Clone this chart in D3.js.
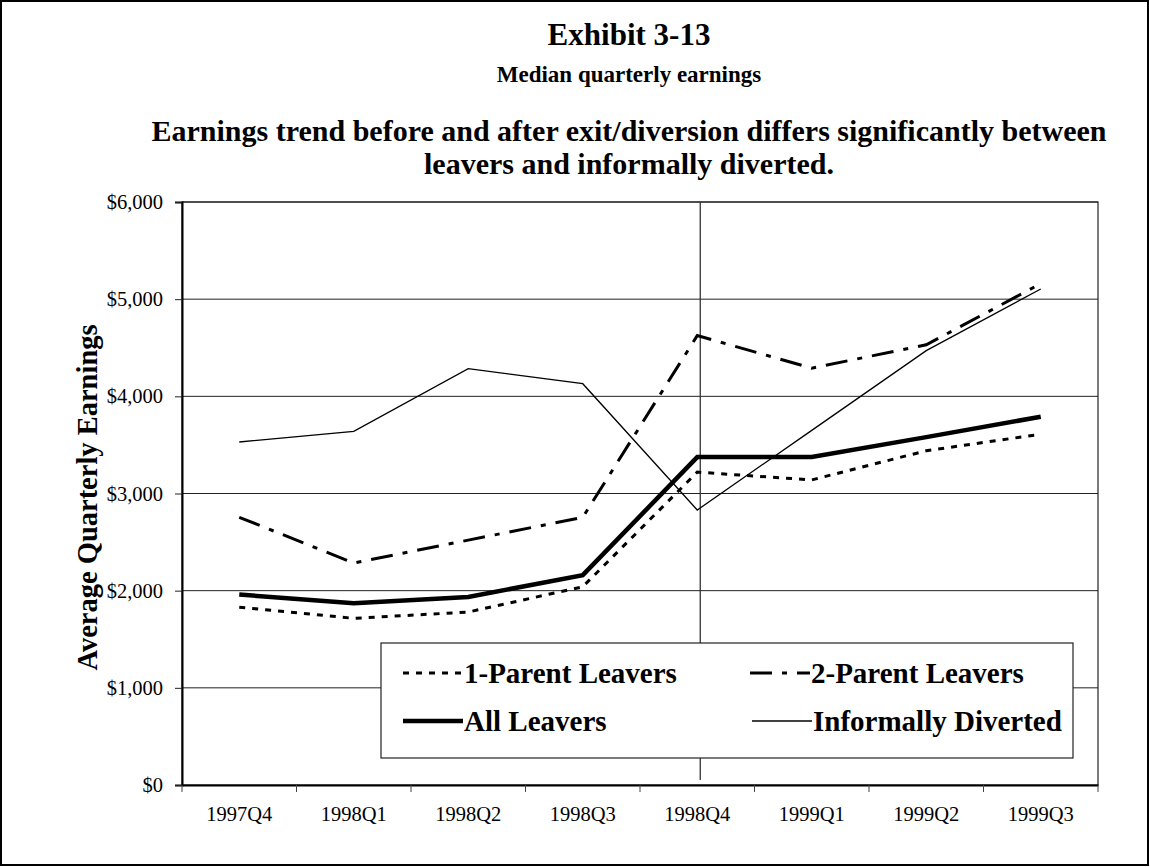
<!DOCTYPE html>
<html>
<head>
<meta charset="utf-8">
<script src="https://cdn.jsdelivr.net/npm/d3@7"></script>
<style>
  body { margin: 0; background: #fff; }
  svg { display: block; font-family: "Liberation Serif", "Times New Roman", serif; }
</style>
</head>
<body>
<svg id="chart" width="1150" height="867"></svg>
<script>
const quarters = ["1997Q4", "1998Q1", "1998Q2", "1998Q3", "1998Q4", "1999Q1", "1999Q2", "1999Q3"];

const oneParent = [1830, 1715, 1780, 2040, 3220, 3140, 3440, 3610];
const twoParent = [2755, 2285, 2520, 2755, 4625, 4290, 4530, 5160];
const allLeavers = [1960, 1870, 1935, 2160, 3375, 3375, 3580, 3790];
const informally = [3530, 3640, 4285, 4130, 2830, 3650, 4470, 5105];

const yTicks = [0, 1000, 2000, 3000, 4000, 5000, 6000];
const exitQuarter = "1998Q4";

const series = [
  { name: "1-Parent Leavers", values: oneParent, width: 3, dash: "6,7" },
  { name: "2-Parent Leavers", values: twoParent, width: 3, dash: "22,10,5,10" },
  { name: "All Leavers", values: allLeavers, width: 4.5, dash: null },
  { name: "Informally Diverted", values: informally, width: 1.3, dash: null },
];

const svg = d3.select("#chart");
const W = 1150, H = 867;
const margin = { left: 182, right: 52, top: 202, bottom: 82 };
const plotW = W - margin.left - margin.right;
const plotH = H - margin.top - margin.bottom;

// outer frame
svg.append("rect")
  .attr("x", 1).attr("y", 1).attr("width", W - 3).attr("height", H - 3)
  .attr("fill", "#fff").attr("stroke", "#000").attr("stroke-width", 2);

// titles
const titles = [
  { text: "Exhibit 3-13", y: 45, size: 31 },
  { text: "Median quarterly earnings", y: 82, size: 23 },
  { text: "Earnings trend before and after exit/diversion differs significantly between", y: 141, size: 30 },
  { text: "leavers and informally diverted.", y: 174, size: 30 },
];
svg.append("g").selectAll("text").data(titles).join("text")
  .attr("x", 629).attr("y", d => d.y)
  .attr("text-anchor", "middle")
  .attr("font-weight", "bold")
  .attr("font-size", d => d.size)
  .text(d => d.text);

const g = svg.append("g").attr("transform", `translate(${margin.left},${margin.top})`);

const x = d3.scaleBand().domain(quarters).range([0, plotW]);
const y = d3.scaleLinear().domain([0, 6000]).range([plotH, 0]);
const cx = q => x(q) + x.bandwidth() / 2;

// gridlines
g.append("g").selectAll("line").data(yTicks.filter(t => t > 0)).join("line")
  .attr("x1", 0).attr("x2", plotW)
  .attr("y1", d => y(d)).attr("y2", d => y(d))
  .attr("stroke", "#222").attr("stroke-width", 1);

// plot border
g.append("rect")
  .attr("width", plotW).attr("height", plotH)
  .attr("fill", "none").attr("stroke", "#222").attr("stroke-width", 1.2);

// exit marker line
g.append("line")
  .attr("x1", cx(exitQuarter) + 3).attr("x2", cx(exitQuarter) + 3)
  .attr("y1", 0).attr("y2", plotH - 5)
  .attr("stroke", "#333").attr("stroke-width", 1.3);

// axes
const yAxis = d3.axisLeft(y).tickValues(yTicks).tickSize(7).tickPadding(12)
  .tickFormat(d => "$" + d3.format(",")(d));
g.append("g").call(yAxis)
  .call(s => s.select(".domain").attr("stroke", "#000").attr("stroke-width", 2))
  .call(s => s.selectAll(".tick line").attr("stroke", "#222"))
  .call(s => s.selectAll("text").attr("font-size", 20.5).attr("font-family", "Liberation Serif").attr("fill", "#000"));

const xAxis = d3.axisBottom(x).tickSize(0).tickPadding(21);
const xg = g.append("g").attr("transform", `translate(0,${plotH})`).call(xAxis);
xg.select(".domain").attr("stroke", "#000").attr("stroke-width", 2.2);
xg.selectAll("text").attr("font-size", 20.5).attr("font-family", "Liberation Serif").attr("fill", "#000");
// boundary ticks between categories
xg.append("g").selectAll("line").data(d3.range(quarters.length + 1)).join("line")
  .attr("x1", i => i * x.step()).attr("x2", i => i * x.step())
  .attr("y1", 0).attr("y2", 7)
  .attr("stroke", "#444").attr("stroke-width", 1);

// y title
svg.append("text")
  .attr("transform", `translate(97,${margin.top + plotH / 2 + 4}) rotate(-90)`)
  .attr("text-anchor", "middle")
  .attr("font-weight", "bold")
  .attr("font-size", 28.5)
  .text("Average Quarterly Earnings");

// lines
const line = d3.line().x((d, i) => cx(quarters[i])).y(d => y(d));
g.append("g").selectAll("path").data(series).join("path")
  .attr("d", d => line(d.values))
  .attr("fill", "none")
  .attr("stroke", "#000")
  .attr("stroke-width", d => d.width)
  .attr("stroke-dasharray", d => d.dash)
  .attr("stroke-linejoin", "miter");

// legend
const legend = svg.append("g").attr("transform", "translate(381,643)");
legend.append("rect")
  .attr("width", 692).attr("height", 115)
  .attr("fill", "#fff").attr("stroke", "#222").attr("stroke-width", 1.2);
const legendPos = [
  { x: 22, y: 30 }, { x: 369, y: 30 }, { x: 22, y: 78 }, { x: 371, y: 78 },
];
const items = legend.selectAll("g.item").data(series).join("g")
  .attr("class", "item")
  .attr("transform", (d, i) => `translate(${legendPos[i].x},${legendPos[i].y})`);
items.append("line")
  .attr("x1", 0).attr("x2", 60).attr("y1", 0).attr("y2", 0)
  .attr("stroke", "#000")
  .attr("stroke-width", d => d.width)
  .attr("stroke-dasharray", d => d.dash);
items.append("text")
  .attr("x", 61).attr("y", 10)
  .attr("font-weight", "bold").attr("font-size", 29)
  .text(d => d.name);
</script>
</body>
</html>
